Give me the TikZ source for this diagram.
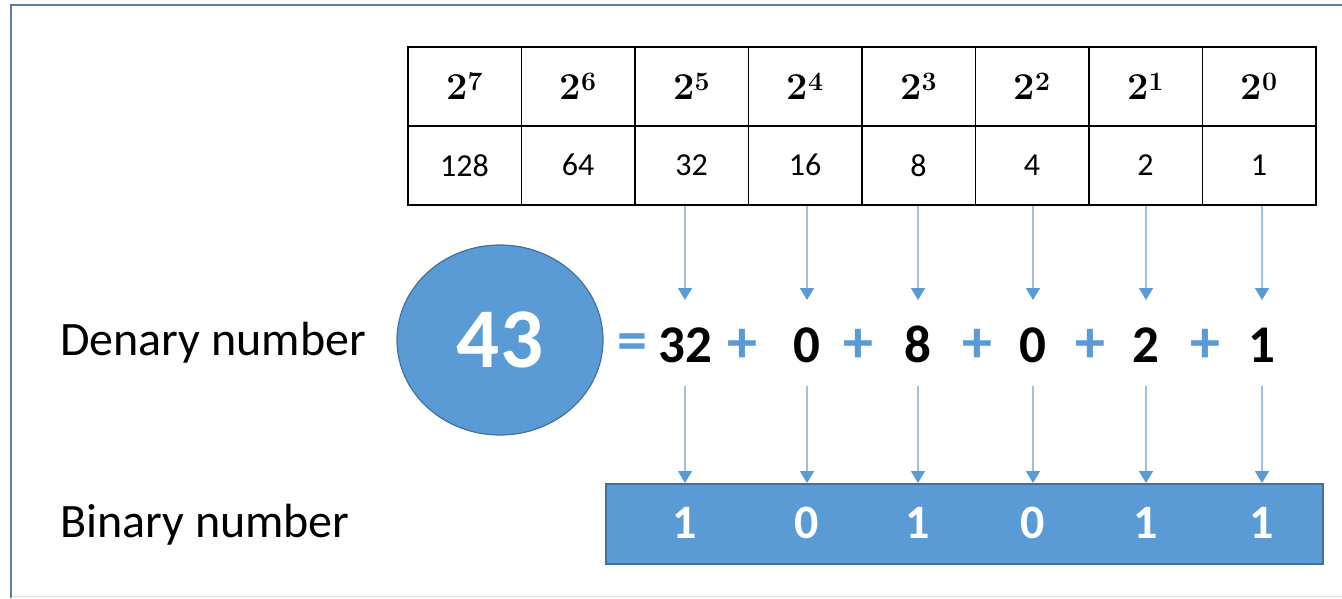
\documentclass[tikz,border=0pt]{standalone}
\usepackage{fontspec}
\newfontfamily\carlito{Carlito}
\usetikzlibrary{arrows.meta,calc,shapes.geometric}
\definecolor{accent}{HTML}{5B9BD5}
\definecolor{accentdark}{HTML}{41719C}
\definecolor{arrowline}{HTML}{9DBFE3}
\definecolor{framec}{HTML}{5A7DA5}
\definecolor{framelight}{HTML}{D6E2EE}

\begin{document}
\begin{tikzpicture}[x=1pt,y=-1pt,
  cell/.style={draw=black,line width=1.6pt,minimum width=113.5pt,minimum height=79pt,
    inner sep=0pt,anchor=north west},
  powtext/.style={font=\bfseries\fontsize{38}{44}\selectfont},
  valtext/.style={font=\carlito\fontsize{32}{38}\selectfont},
  label/.style={font=\carlito\fontsize{48}{56}\selectfont,anchor=base west,inner sep=0pt},
  term/.style={font=\carlito\bfseries\fontsize{53}{60}\selectfont,anchor=base,inner sep=0pt},
  op/.style={font=\carlito\bfseries\fontsize{60}{66}\selectfont,anchor=base,inner sep=0pt,text=accent},
  bit/.style={font=\carlito\bfseries\fontsize{48}{56}\selectfont,text=white,inner sep=0pt},
  conn/.style={draw=arrowline,line width=1.5pt,-{Triangle[width=14pt,length=12pt,color=accent]}}
]
\useasboundingbox (0,0) rectangle (1342,598);

% frame
\draw[framelight,line width=1pt] (11,596.5) -- (1342,596.5);
\draw[framec,line width=2.5pt] (11,598) -- (11,5) -- (1342,5);

% place-value table
\foreach \i/\e/\v in {0/7/128,1/6/64,2/5/32,3/4/16,4/3/8,5/2/4,6/1/2,7/0/1}{
  \node[cell,powtext] (h\e) at (407+\i*113.5,46) {2\textsuperscript{\e}};
  \node[cell,valtext] (v\e) at (407+\i*113.5,125) {\v};
}

% labels
\node[label] (den) at (60,355) {Denary number};
\node[label] (bin) at (60,537) {Binary number};

% the number in a circle
\node[ellipse,fill=accent,draw=accentdark,line width=1.2pt,minimum width=206pt,minimum height=190pt,
  inner sep=0pt,font=\carlito\bfseries\fontsize{85}{90}\selectfont,text=white] (num) at (500,340) {43};

% sum of powers
\node[op] (eq) at (632,360) {=};
\node[term] (t5) at (685,362) {32};
\node[op] (p1) at (742,362) {+};
\node[term] (t4) at (807,362) {0};
\node[op] (p2) at (858,362) {+};
\node[term] (t3) at (918,362) {8};
\node[op] (p3) at (977,362) {+};
\node[term] (t2) at (1033,362) {0};
\node[op] (p4) at (1090,362) {+};
\node[term] (t1) at (1146,362) {2};
\node[op] (p5) at (1205,362) {+};
\node[term] (t0) at (1262,362) {1};

% binary result
\node[draw=accentdark,fill=accent,line width=1.5pt,minimum width=717pt,minimum height=80pt,
  inner sep=0pt,anchor=north west] (box) at (605,483) {};
\foreach \k/\b in {5/1,4/0,3/1,2/0,1/1,0/1}{
  \node[bit] (b\k) at (t\k |- 0,523) {\b};
  \draw[conn] (v\k.south -| t\k) -- ($(t\k.base)+(0,-62)$);
  \draw[conn] ($(t\k.base)+(0,24)$) -- (box.north -| t\k);
}
\end{tikzpicture}
\end{document}
